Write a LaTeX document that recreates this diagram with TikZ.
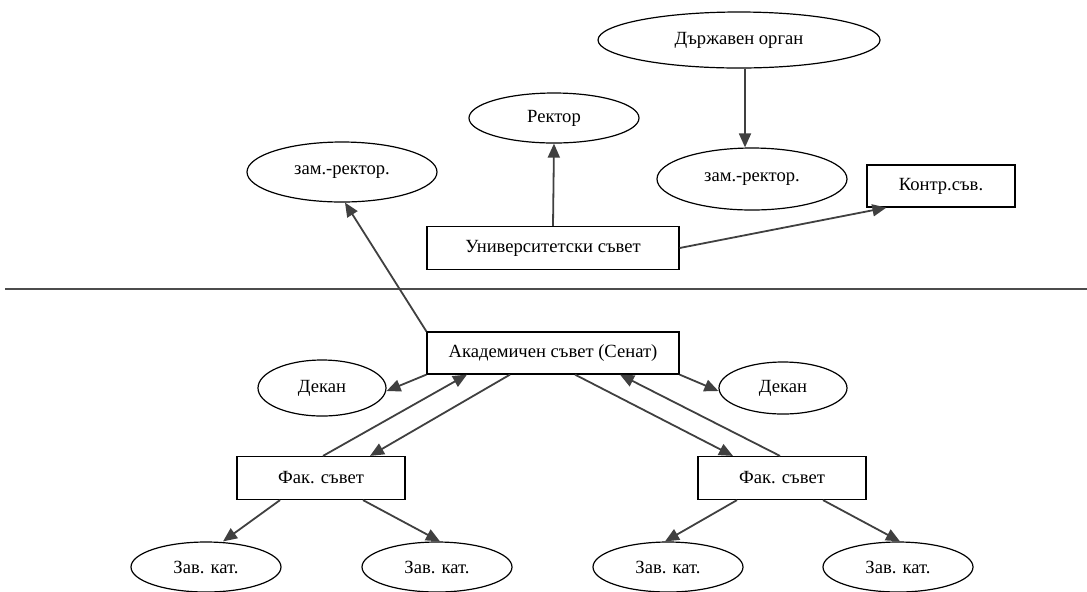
\documentclass[tikz,border=0pt]{standalone}
\usepackage{fontspec}
\setmainfont{Liberation Serif}
\usepackage{tikz}
\usetikzlibrary{shapes.geometric, arrows.meta, calc}

\begin{document}
\begin{tikzpicture}[x=0.5pt, y=-0.5pt, >={Triangle[length=7pt,width=6pt]},
  every node/.style={font=\fontsize{9.3}{11}\selectfont, inner sep=0pt},
  box/.style={draw, line width=0.6pt, rectangle},
  oval/.style={draw, line width=0.6pt, ellipse},
  link/.style={->, draw=black!75, fill=black!70, line width=0.9pt}]

\useasboundingbox (0,0) rectangle (1087,591);

% upper part
\node [oval, minimum width=141pt, minimum height=28pt] (organ) at (739,40) {Държавен орган};
\node [oval, minimum width=85pt, minimum height=25pt] (rector) at (554,118) {Ректор};
\node [oval, minimum width=95pt, minimum height=30pt] (zam-left) at (342,172) {зам.-ректор.};
\node [oval, minimum width=95pt, minimum height=31pt] (zam-right) at (752,179) {зам.-ректор.};
\node [box, minimum width=74pt, minimum height=21pt] (control) at (941,186) {Контр.съв.};
\node [box, minimum width=126pt, minimum height=21.5pt] (univ) at (553,248) {Университетски съвет};

\draw [black!70, line width=0.9pt] (5,289) -- (1087,289);

% lower part
\node [box, minimum width=126pt, minimum height=21pt] (senate) at (553,353) {Академичен съвет (Сенат)};
\node [oval, minimum width=64pt, minimum height=28pt] (dean-1) at (322,388) {Декан};
\node [oval, minimum width=64pt, minimum height=26pt] (dean-2) at (783,388) {Декан};

\foreach \x [count=\i] in {321,782}
  \node [box, minimum width=84pt, minimum height=21.5pt] (fak-\i) at (\x,478) {Фак. съвет};

\foreach \x [count=\i] in {206,437,668,898}
  \node [oval, minimum width=75pt, minimum height=25pt] (zav-\i) at (\x,567) {Зав. кат.};

% connectors
\draw [link] ($(organ.south)+(6,0)$) -- ($(zam-right.north)+(-7,0)$);
\draw [link] (univ.north) -- (rector.south);
\draw [link] (univ.east) -- ($(control.south west)+(20,0)$);
\draw [link] (senate.north west) -- ($(zam-left.south)+(3,0)$);
\draw [link] (senate.south west) -- ($(dean-1.east)+(0,3)$);
\draw [link] (senate.south east) -- ($(dean-2.west)+(0,3)$);

\draw [link] ($(fak-1.north)+(2,0)$) -- ($(senate.south)+(-86,0)$);
\draw [link] ($(senate.south)+(-43,0)$) -- ($(fak-1.north)+(49,0)$);
\draw [link] ($(senate.south)+(22,0)$) -- ($(fak-2.north)+(-49,0)$);
\draw [link] ($(fak-2.north)+(-2,0)$) -- ($(senate.south)+(67,0)$);

\foreach \f/\a/\z/\b in {1/-41/1/17, 1/42/2/3, 2/-45/3/-3, 2/41/4/2}
  \draw [link] ($(fak-\f.south)+(\a,0)$) -- ($(zav-\z.north)+(\b,0)$);

\end{tikzpicture}
\end{document}
